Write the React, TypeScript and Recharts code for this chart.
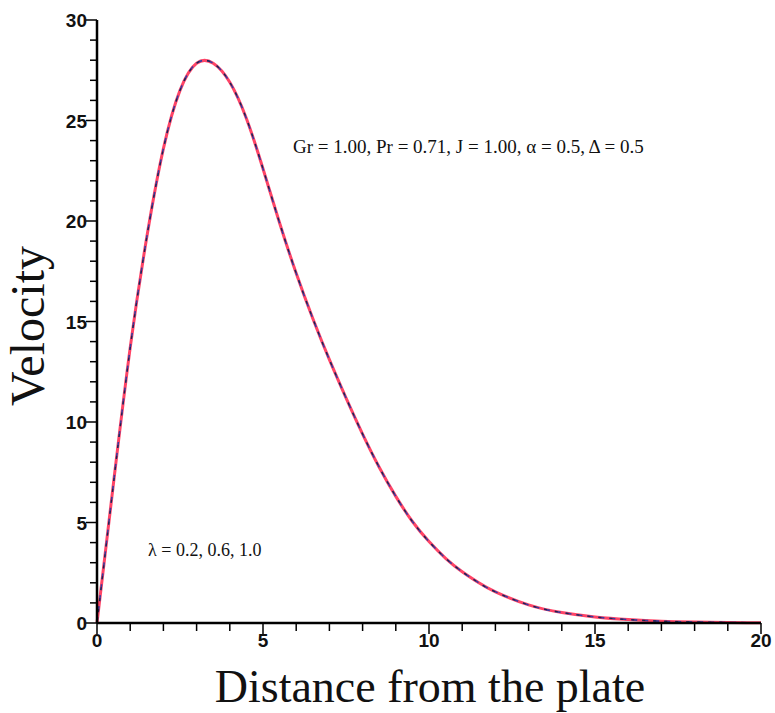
import { LineChart, Line, XAxis, YAxis } from "recharts";

// distance from the plate (x) and velocity for each lambda
const distance = [0, 0.5, 1, 1.5, 2, 2.5, 3, 3.5, 4, 4.5, 5, 5.5, 6, 6.5, 7, 7.5, 8, 8.5, 9, 9.5, 10, 10.5, 11, 11.5, 12, 13, 14, 15, 16, 17, 18, 19, 20];
const velocityL02 = [0, 7.0, 13.7, 19.2, 23.6, 26.5, 27.85, 27.85, 26.9, 25.1, 22.6, 19.9, 17.4, 15.15, 13.1, 11.2, 9.4, 7.75, 6.3, 5.05, 4.05, 3.22, 2.55, 2.0, 1.55, 0.9, 0.52, 0.3, 0.17, 0.09, 0.05, 0.025, 0.01];
const velocityL06 = [0, 7.0, 13.7, 19.2, 23.6, 26.5, 27.85, 27.85, 26.9, 25.1, 22.6, 19.9, 17.4, 15.15, 13.1, 11.2, 9.4, 7.75, 6.3, 5.05, 4.05, 3.22, 2.55, 2.0, 1.55, 0.9, 0.52, 0.3, 0.17, 0.09, 0.05, 0.025, 0.01];
const velocityL10 = [0, 7.0, 13.7, 19.2, 23.6, 26.5, 27.85, 27.85, 26.9, 25.1, 22.6, 19.9, 17.4, 15.15, 13.1, 11.2, 9.4, 7.75, 6.3, 5.05, 4.05, 3.22, 2.55, 2.0, 1.55, 0.9, 0.52, 0.3, 0.17, 0.09, 0.05, 0.025, 0.01];

const xTicks = Array.from({ length: 21 }, (_, i) => i);
const yTicks = Array.from({ length: 31 }, (_, i) => i);

const data = distance.map((x, i) => ({
  x,
  l02: velocityL02[i],
  l06: velocityL06[i],
  l10: velocityL10[i],
}));

const tickFont = "'Liberation Sans', Arial, sans-serif";
const serif = "'Liberation Serif', 'Times New Roman', serif";

function YTick(props: any) {
  const { x, y, payload } = props;
  const major = payload.value % 5 === 0;
  return (
    <g>
      <line x1={x - (major ? 11 : 7)} x2={x} y1={y} y2={y} stroke="#000" strokeWidth={1.5} />
      {major && (
        <text x={x - 10} y={y} dy={7} textAnchor="end" fontSize={19} fontWeight={700} fontFamily={tickFont} fill="#111">
          {payload.value}
        </text>
      )}
    </g>
  );
}

function XTick(props: any) {
  const { x, y, payload } = props;
  const major = payload.value % 5 === 0;
  return (
    <g>
      <line x1={x} x2={x} y1={y} y2={y + (major ? 11 : 8)} stroke="#000" strokeWidth={1.5} />
      {major && (
        <text x={x} y={y + 24} textAnchor="middle" fontSize={19} fontWeight={700} fontFamily={tickFont} fill="#111">
          {payload.value}
        </text>
      )}
    </g>
  );
}

export default function App() {
  return (
    <div style={{ position: "absolute", left: 0, top: 0, width: 775, height: 713, background: "#fff" }}>
      <LineChart width={775} height={713} data={data} margin={{ top: 20, right: 14, bottom: 60, left: 47 }}>
        <XAxis
          type="number"
          dataKey="x"
          domain={[0, 20]}
          ticks={xTicks}
          interval={0}
          tickSize={0}
          tickMargin={0}
          tickLine={false}
          height={30}
          axisLine={{ stroke: "#000", strokeWidth: 2.5 }}
          tick={<XTick />}
        />
        <YAxis
          type="number"
          domain={[0, 30]}
          ticks={yTicks}
          interval={0}
          tickSize={0}
          tickMargin={0}
          tickLine={false}
          width={50}
          axisLine={{ stroke: "#000", strokeWidth: 2.5 }}
          tick={<YTick />}
        />
        <Line type="natural" dataKey="l02" stroke="#ff4466" strokeWidth={3} dot={false} isAnimationActive={false} />
        <Line type="natural" dataKey="l06" stroke="#3b3b9e" strokeWidth={1.6} strokeDasharray="6 5" dot={false} isAnimationActive={false} />
        <Line type="natural" dataKey="l10" stroke="#222244" strokeWidth={1.2} strokeDasharray="3 8" dot={false} isAnimationActive={false} />
      </LineChart>
      <svg width={775} height={713} style={{ position: "absolute", left: 0, top: 0, pointerEvents: "none" }}>
        <text x={44} y={326} transform="rotate(-90, 44, 326)" textAnchor="middle" fontSize={48} fontFamily={serif} fill="#111">
          Velocity
        </text>
        <text x={430} y={702} textAnchor="middle" fontSize={46} fontFamily={serif} fill="#111">
          Distance from the plate
        </text>
        <text x={293} y={153} fontSize={19} fontFamily={serif} fill="#111">
          Gr = 1.00, Pr = 0.71, J = 1.00, α = 0.5, Δ = 0.5
        </text>
        <text x={148} y={556} fontSize={18} fontFamily={serif} fill="#111">
          λ = 0.2, 0.6, 1.0
        </text>
      </svg>
    </div>
  );
}
